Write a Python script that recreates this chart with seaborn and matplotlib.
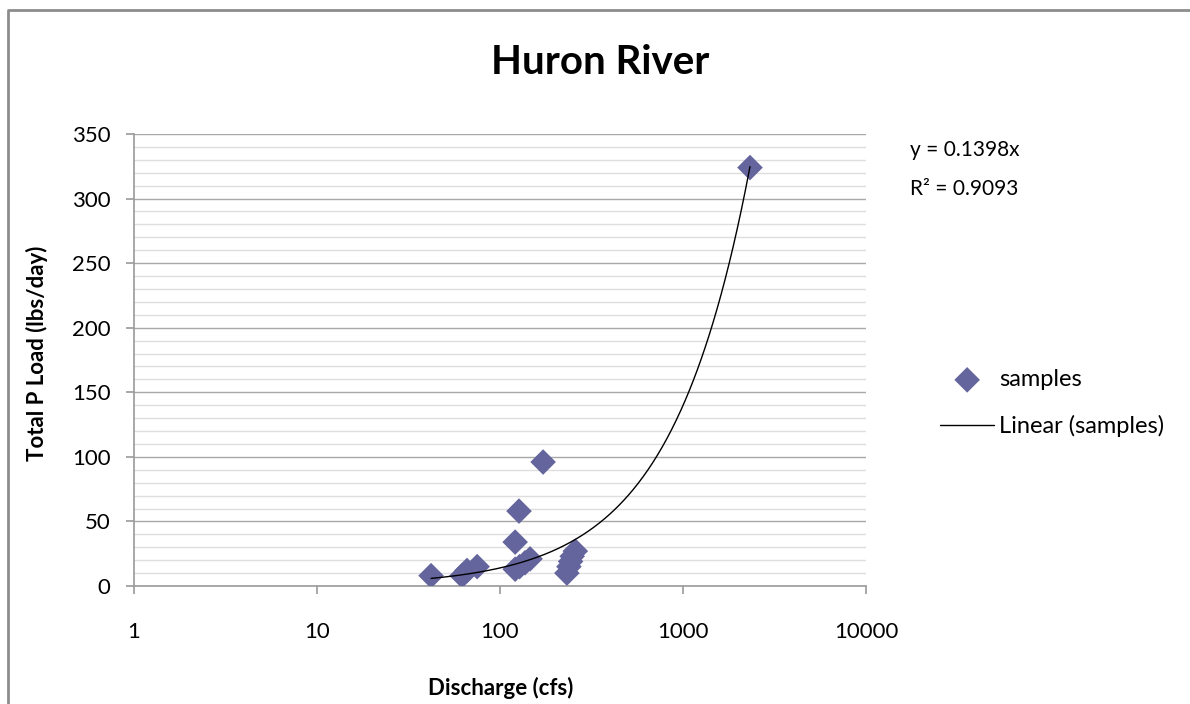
import numpy as np
import pandas as pd
import matplotlib
matplotlib.use("Agg")
import matplotlib.pyplot as plt
from matplotlib.lines import Line2D
from matplotlib.ticker import FixedLocator, MultipleLocator, NullLocator
import seaborn as sns

# Discharge / phosphorus load samples
discharge_cfs = [42, 62, 66, 75, 121, 121, 128, 127, 137, 146, 172,
                 232, 238, 243, 248, 258, 2323]
p_load_lbs_day = [8, 8, 12, 15, 34, 13, 15, 58, 18, 21, 96,
                  10, 15, 19, 23, 27, 324]

# Linear trendline through the origin
slope = 0.1398
r_squared = 0.9093

x_ticks = [1, 10, 100, 1000, 10000]
x_tick_labels = ["1", "10", "100", "1000", "10000"]
y_ticks = [0, 50, 100, 150, 200, 250, 300, 350]

title = "Huron River"
x_label = "Discharge (cfs)"
y_label = "Total P Load (lbs/day)"
series_label = "samples"
trend_label = "Linear (samples)"

df = pd.DataFrame({"discharge": discharge_cfs, "load": p_load_lbs_day})
trend_x = np.geomspace(min(discharge_cfs), max(discharge_cfs), 400)
trend_df = pd.DataFrame({"discharge": trend_x, "load": slope * trend_x})

sns.set_theme(style="white")
plt.rcParams["font.family"] = ["Lato", "DejaVu Sans"]
plt.rcParams["text.color"] = "black"

W, H = 1190, 704
fig = plt.figure(figsize=(W / 100, H / 100), dpi=100)
ax = fig.add_axes([134 / W, 1 - 586 / H, (866 - 134) / W, (586 - 134) / H])

marker_color = "#65659e"
sns.scatterplot(data=df, x="discharge", y="load", marker="D", s=170,
                color=marker_color, edgecolor="none", ax=ax,
                label=series_label, legend=False, zorder=3)
sns.lineplot(data=trend_df, x="discharge", y="load", color="black",
             linewidth=1.0, ax=ax, label=trend_label, legend=False,
             sort=False, estimator=None, zorder=4)

ax.set_xscale("log")
ax.set_xlim(x_ticks[0], x_ticks[-1])
ax.set_ylim(0, 350)
ax.xaxis.set_major_locator(FixedLocator(x_ticks))
ax.xaxis.set_minor_locator(NullLocator())
ax.set_xticklabels(x_tick_labels)
ax.yaxis.set_major_locator(FixedLocator(y_ticks))
ax.yaxis.set_minor_locator(MultipleLocator(10))

ax.grid(False)
ax.grid(True, which="minor", axis="y", color="#dedede", linewidth=1.0, zorder=0)
ax.grid(True, which="major", axis="y", color="#a8a8a8", linewidth=1.0, zorder=0)
ax.set_axisbelow(True)

for side in ("top", "right"):
    ax.spines[side].set_visible(False)
for side in ("left", "bottom"):
    ax.spines[side].set_color("#9a9a9a")
    ax.spines[side].set_linewidth(1.2)

ax.tick_params(axis="both", which="major", direction="out", length=6,
               width=1.2, color="#9a9a9a", labelsize=16, labelcolor="black",
               bottom=True, left=True)
ax.tick_params(axis="y", which="major", pad=11)
ax.tick_params(axis="x", which="major", pad=20)
ax.tick_params(axis="y", which="minor", left=False)

ax.set_xlabel("")
ax.set_ylabel("")

fig.text(600 / W, 1 - 62 / H, title, ha="center", va="center",
         fontsize=29, fontweight="bold", color="black")
fig.text(501 / W, 1 - 688 / H, x_label, ha="center", va="center",
         fontsize=16, fontweight="bold", color="black")
fig.text(37 / W, 1 - 353 / H, y_label, ha="center", va="center",
         fontsize=16, fontweight="bold", rotation=90, color="black")

fig.text(910 / W, 1 - 150 / H, f"y = {slope:.4f}x", ha="left",
         va="center", fontsize=15, color="black")
fig.text(910 / W, 1 - 189 / H, f"R\u00b2 = {r_squared:.4f}", ha="left",
         va="center", fontsize=15, color="black")

handles, labels = ax.get_legend_handles_labels()
leg = ax.legend(handles, labels, loc="center left",
                bbox_to_anchor=(940 / W, 1 - 403 / H),
                bbox_transform=fig.transFigure, frameon=False,
                fontsize=17, handlelength=2.3, handletextpad=0.2,
                labelspacing=1.05, borderpad=0, borderaxespad=0)
for txt in leg.get_texts():
    txt.set_color("black")

# Chart area frame (left and top edges)
frame = Line2D([8 / W, 8 / W, 1.0], [0.0, 1 - 10 / H, 1 - 10 / H],
               transform=fig.transFigure, color="#8c8c8c", linewidth=2.0)
fig.add_artist(frame)

fig.savefig("out.png", dpi=100)
